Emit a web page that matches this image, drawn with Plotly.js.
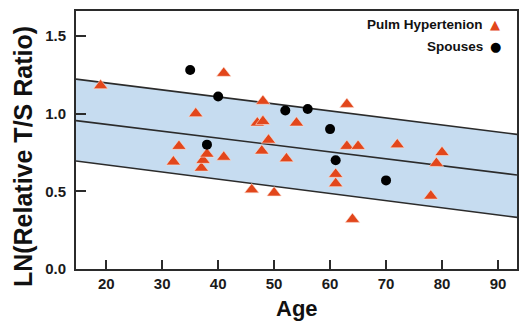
<!DOCTYPE html>
<html>
<head>
<meta charset="utf-8">
<script src="https://cdn.plot.ly/plotly-3.0.1.min.js"></script>
<style>html,body{margin:0;padding:0;background:#fff;}#chart{width:519px;height:323px;}</style>
</head>
<body>
<div id="chart"></div>
<script>
// Pulmonary hypertension patients (triangles)
const phAge   = [19, 41, 36, 33, 32, 37, 37.3, 38, 41, 48, 47, 48, 54, 63, 49, 47.8, 52.2, 63, 65, 61, 61, 46, 50, 72, 80, 79, 78, 64];
const phValue = [1.18, 1.26, 1.00, 0.79, 0.69, 0.65, 0.70, 0.74, 0.72, 1.08, 0.94, 0.95, 0.94, 1.06, 0.83, 0.76, 0.71, 0.79, 0.79, 0.61, 0.55, 0.51, 0.49, 0.80, 0.75, 0.68, 0.47, 0.32];
// Spouses (circles)
const spAge   = [35, 40, 38, 52, 56, 60, 61, 70];
const spValue = [1.28, 1.11, 0.80, 1.02, 1.03, 0.90, 0.70, 0.57];
// Regression line and band (values at the two ends of the axis)
const fitAge    = [14.6, 93.4];
const fitCenter = [0.955, 0.605];
const fitUpper  = [1.222, 0.866];
const fitLower  = [0.695, 0.332];
const xTicks = [20, 30, 40, 50, 60, 70, 80, 90];
const yTicks = [0.0, 0.5, 1.0, 1.5];
const yTickText = ['0.0', '0.5', '1.0', '1.5'];
const legendNames = ['Pulm Hypertenion', 'Spouses'];

const lineCol = '#2b2b2b';
const band = '#c6dcf0';
const orange = '#e2461b';
const fontFam = 'Liberation Sans, Arial, sans-serif';

const traces = [
  {x: fitAge, y: fitLower, mode: 'lines', line: {color: lineCol, width: 1.6}, hoverinfo: 'skip', showlegend: false},
  {x: fitAge, y: fitUpper, mode: 'lines', fill: 'tonexty', fillcolor: band, line: {color: lineCol, width: 1.6}, hoverinfo: 'skip', showlegend: false},
  {x: fitAge, y: fitCenter, mode: 'lines', line: {color: lineCol, width: 1.6}, hoverinfo: 'skip', showlegend: false},
  {x: phAge, y: phValue, mode: 'markers', name: legendNames[0], showlegend: false,
   marker: {symbol: 'triangle-up', size: 12.5, color: orange, line: {color: '#fbe3d8', width: 0.6}}},
  {x: spAge, y: spValue, mode: 'markers', name: legendNames[1], showlegend: false,
   marker: {symbol: 'circle', size: 10, color: '#000000'}}
];

const layout = {
  width: 519, height: 323,
  margin: {l: 76, r: 2, t: 11, b: 54},
  paper_bgcolor: '#ffffff', plot_bgcolor: '#ffffff',
  showlegend: false,
  xaxis: {
    range: [14.6, 93.4], tickvals: xTicks, ticktext: xTicks.map(String),
    ticks: 'inside', ticklen: 9, tickwidth: 2, tickcolor: lineCol,
    showline: true, linecolor: lineCol, linewidth: 2, mirror: true,
    showgrid: false, zeroline: false,
    tickfont: {family: fontFam, size: 15, color: '#1a1a1a', weight: 'bold'},
    ticklabelstandoff: 0
  },
  yaxis: {
    range: [0, 1.66], tickvals: yTicks, ticktext: yTickText,
    ticks: 'inside', ticklen: 10, tickwidth: 2, tickcolor: lineCol,
    showline: true, linecolor: lineCol, linewidth: 2, mirror: true,
    showgrid: false, zeroline: false,
    tickfont: {family: fontFam, size: 15, color: '#1a1a1a', weight: 'bold'},
    ticklabelstandoff: 5
  },
  annotations: [
    {text: 'Age', xref: 'paper', yref: 'paper', x: 0.5, y: -0.155, xanchor: 'center', yanchor: 'middle', showarrow: false,
     font: {family: fontFam, size: 22, color: '#111', weight: 'bold'}},
    {text: 'LN(Relative T/S Ratio)', xref: 'paper', yref: 'paper', x: -0.12, y: 0.434, textangle: -90, xanchor: 'center', yanchor: 'middle', showarrow: false,
     font: {family: fontFam, size: 25, color: '#111', weight: 'bold'}},
    {text: legendNames[0], xref: 'paper', yref: 'paper', x: 0.928, y: 0.946, xanchor: 'right', yanchor: 'middle', showarrow: false,
     font: {family: fontFam, size: 13.5, color: '#111', weight: 'bold'}},
    {text: legendNames[1], xref: 'paper', yref: 'paper', x: 0.928, y: 0.864, xanchor: 'right', yanchor: 'middle', showarrow: false,
     font: {family: fontFam, size: 13.5, color: '#111', weight: 'bold'}},
    {text: '▲', xref: 'paper', yref: 'paper', x: 0.951, y: 0.946, xanchor: 'center', yanchor: 'middle', showarrow: false,
     font: {family: 'DejaVu Sans', size: 13, color: orange}},
    {text: '●', xref: 'paper', yref: 'paper', x: 0.951, y: 0.864, xanchor: 'center', yanchor: 'middle', showarrow: false,
     font: {family: 'DejaVu Sans', size: 13, color: '#000'}}
  ]
};

Plotly.newPlot('chart', traces, layout, {staticPlot: true, displayModeBar: false});
</script>
</body>
</html>
